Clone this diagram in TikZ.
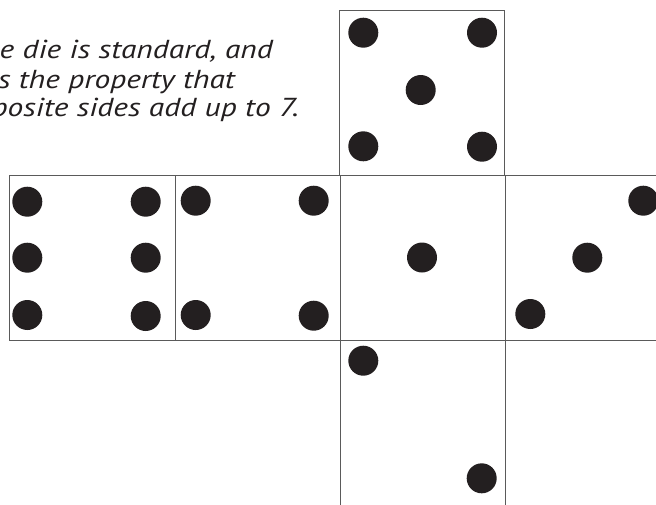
\documentclass[tikz,border=0pt]{standalone}
\usepackage{fontspec}
\setmainfont{PT Sans}
\newfontfamily\captionfont{PT Sans}[FakeStretch=1.21]
\definecolor{ink}{HTML}{231F20}
\definecolor{edge}{HTML}{5A5A5A}
\begin{document}
\begin{tikzpicture}[x=1pt,y=-1pt,
  face/.style={draw=edge,line width=0.8pt},
  pip/.style={fill=ink},
  txt/.style={inner sep=0pt,text=ink,font=\captionfont\fontsize{26}{29}\selectfont\itshape}]
\useasboundingbox (0,0) rectangle (656,504);
\clip (0,0) rectangle (656,504);
% text
\node[txt,anchor=base east] (l1) at (273,58.3) {The die is standard, and};
\node[txt,anchor=base east] (l2) at (235,88.3) {has the property that};
\node[txt,anchor=base east] (l3) at (299,116.7) {opposite sides add up to 7.};
% faces
\draw[face] (339.5,10) rectangle (504.5,175);
\draw[face] (9,175) rectangle (175.5,340);
\draw[face] (175.5,175) rectangle (340,340);
\draw[face] (340,175) rectangle (505,340);
\draw[face] (505,175) rectangle (671,340);
\draw[face] (340,340) rectangle (505,506);
% top face: 5
\foreach \p in {(363.3,32.7),(482,32.7),(420.7,90),(363.3,146.3),(482,146.7)}
  \fill[pip] \p circle (15);
% left face: 6
\foreach \p in {(27.3,201.7),(27.3,257.7),(27.3,315),(145.7,201.7),(145.7,257.7),(145.7,316)}
  \fill[pip] \p circle (15);
% second face: 4
\foreach \p in {(195.7,200.7),(313.7,200.7),(195.7,315),(313.7,315.7)}
  \fill[pip] \p circle (15);
% centre face: 1
\fill[pip] (422,257.5) circle (15);
% right face: 3
\foreach \p in {(643.3,200.7),(587.3,257.7),(530.3,314)}
  \fill[pip] \p circle (15);
% bottom face: 2
\foreach \p in {(363.3,360.7),(481.7,478.3)}
  \fill[pip] \p circle (15);
\end{tikzpicture}
\end{document}
